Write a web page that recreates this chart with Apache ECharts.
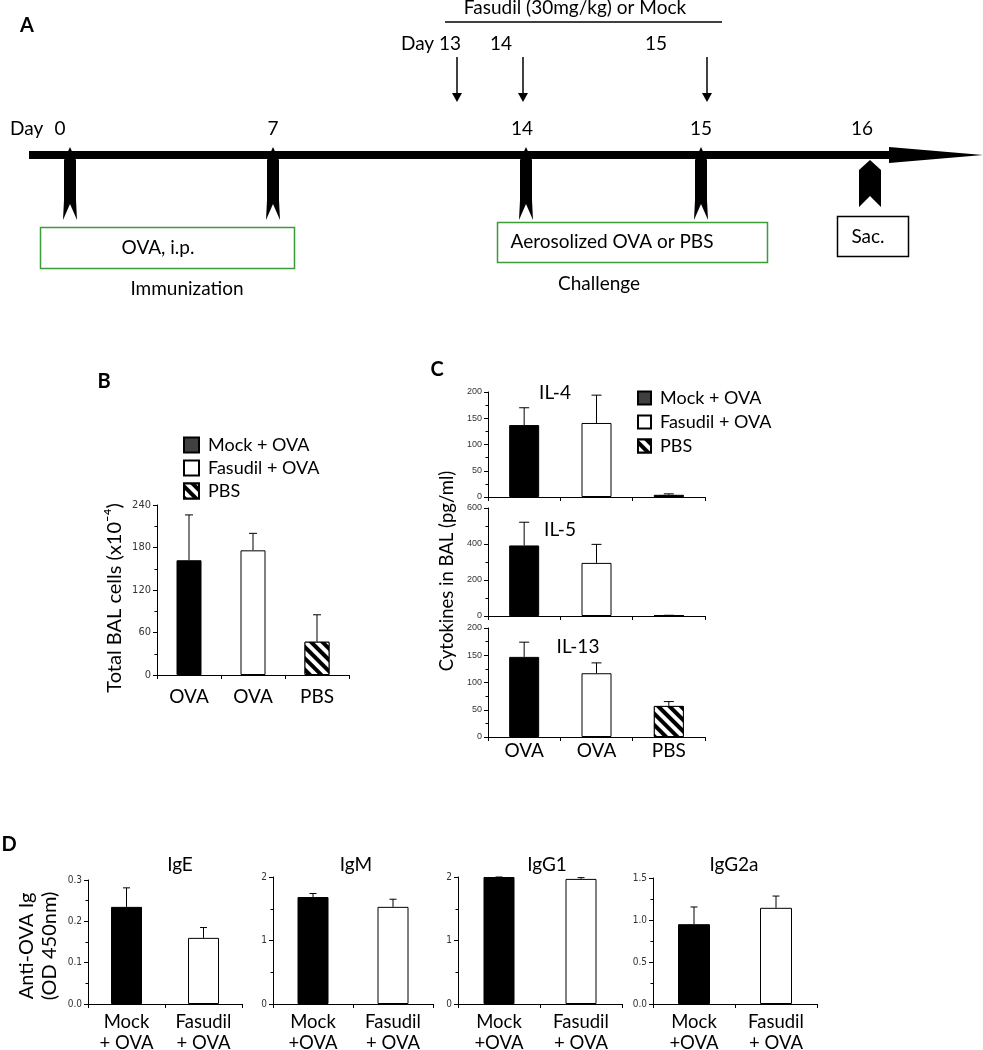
<!DOCTYPE html>
<html><head><meta charset="utf-8">
<script src="https://cdn.jsdelivr.net/npm/echarts@6.0.0/dist/echarts.min.js"></script>
<style>html,body{margin:0;padding:0;background:#fff}#c{width:983px;height:1050px}</style>
</head><body><div id="c"></div>
<script>
// ---------------- DATA ----------------
const timelineDays = ['0', '7', '14', '15', '16'];
const fasudilDays = ['Day 13', '14', '15'];
const seriesNames = ['Mock + OVA', 'Fasudil + OVA', 'PBS'];
const groupsBC = ['OVA', 'OVA', 'PBS'];
const balCells = [162, 176, 47];
const balCellsErr = [226, 200, 85];
const il4 = [137, 141, 4];
const il4Err = [170, 194, 6];
const il5 = [392, 295, 3];
const il5Err = [521, 398, 4];
const il13 = [147, 117, 57];
const il13Err = [174, 136, 65];
const igCatsE = ['Mock\n+ OVA', 'Fasudil\n+ OVA'];
const igCats = ['Mock\n+OVA', 'Fasudil\n+ OVA'];
const igE = [0.235, 0.160];
const igEErr = [0.281, 0.185];
const igM = [1.685, 1.53];
const igMErr = [1.74, 1.65];
const igG1 = [2.0, 1.97];
const igG1Err = [2.0, 1.99];
const igG2a = [0.95, 1.145];
const igG2aErr = [1.155, 1.285];

// ---------------- STYLE ----------------
const FONT = 'Lato, "Open Sans", sans-serif';
const NARROW = '"Liberation Sans Narrow", "DejaVu Sans Condensed", "Arial Narrow", sans-serif';
const ARIAL = '"Liberation Sans", Arial, sans-serif';
const GREEN = '#3a9d3a';
const hatch = { symbol: 'rect', symbolSize: 1, color: '#000', backgroundColor: '#fff',
  dashArrayX: [1, 0], dashArrayY: [4, 4], rotation: Math.PI / 4 };
const barStyles = [
  { color: '#000', borderColor: '#000', borderWidth: 1 },
  { color: '#fff', borderColor: '#000', borderWidth: 1 },
  { color: '#fff', borderColor: '#000', borderWidth: 1, decal: hatch }
];

const grids = [], xAxes = [], yAxes = [], series = [];

function errRender(cap) {
  return function (params, api) {
    const x = api.value(0), v = api.value(1), e = api.value(2);
    const p0 = api.coord([x, v]);
    const p1 = api.coord([x, e]);
    return { type: 'group', children: [
      { type: 'line', shape: { x1: p0[0], y1: p0[1], x2: p1[0], y2: p1[1] }, style: { stroke: '#000', lineWidth: 1 } },
      { type: 'line', shape: { x1: p1[0] - cap / 2, y1: p1[1], x2: p1[0] + cap / 2, y2: p1[1] }, style: { stroke: '#000', lineWidth: 1 } }
    ]};
  };
}

function addPanel(p) {
  const gi = grids.length;
  grids.push({ left: p.left, top: p.top, width: p.width, height: p.height, containLabel: false, outerBoundsMode: 'none' });
  xAxes.push({
    type: 'category', gridIndex: gi, data: p.cats,
    axisLine: { lineStyle: { color: '#000', width: 1 } },
    axisTick: { show: true, length: 4, lineStyle: { color: '#000' } },
    axisLabel: { show: !!p.showCats, fontFamily: FONT, fontSize: p.catSize || 18, color: '#000',
      margin: p.catMargin || 6, lineHeight: p.catLine || 20 },
    splitLine: { show: false }
  });
  yAxes.push({
    type: 'value', gridIndex: gi, min: 0, max: p.max, interval: p.interval,
    axisLine: { show: true, lineStyle: { color: '#000', width: 1 } },
    axisTick: { show: true, length: 4, lineStyle: { color: '#000' } },
    minorTick: { show: true, splitNumber: p.minorSplit || 2, length: 2.5, lineStyle: { color: '#000' } },
    splitLine: { show: false },
    axisLabel: { fontFamily: p.tickFont, fontSize: p.tickSize, color: '#333', margin: 6,
      formatter: p.fmt || null }
  });
  p.values.forEach((v, i) => {
    const data = p.values.map((vv, j) => (j === i ? vv : '-'));
    series.push({ type: 'bar', name: seriesNames[i], xAxisIndex: gi, yAxisIndex: gi, data,
      barWidth: p.barWidth, barGap: '-100%', itemStyle: barStyles[i], silent: true,
      emphasis: { disabled: true }, z: 2 });
  });
  series.push({ type: 'custom', xAxisIndex: gi, yAxisIndex: gi, silent: true, z: 3,
    data: p.values.map((v, i) => [i, v, p.errs[i]]), renderItem: errRender(p.cap), clip: false });
}

// Panel B
addPanel({ left: 157, top: 505, width: 192, height: 170, cats: groupsBC, showCats: true, catMargin: 12, catSize: 19,
  max: 240, interval: 60, values: balCells, errs: balCellsErr, barWidth: 25, cap: 8,
  tickFont: NARROW, tickSize: 11 });
// Panel C
addPanel({ left: 488, top: 392, width: 217, height: 105, cats: groupsBC, max: 200, interval: 50,
  values: il4, errs: il4Err, barWidth: 30, cap: 10, tickFont: ARIAL, tickSize: 9 });
addPanel({ left: 488, top: 508, width: 217, height: 108, cats: groupsBC, max: 600, interval: 200,
  values: il5, errs: il5Err, barWidth: 30, cap: 10, tickFont: ARIAL, tickSize: 9 });
addPanel({ left: 488, top: 628, width: 217, height: 109, cats: groupsBC, showCats: true, catMargin: 4, catSize: 19,
  max: 200, interval: 50, values: il13, errs: il13Err, barWidth: 30, cap: 10, tickFont: ARIAL, tickSize: 9 });
// Panel D
const fmt1 = v => v.toFixed(1);
const dCat = { showCats: true, catMargin: 8, catSize: 18.5, catLine: 21, barWidth: 31, cap: 7, tickFont: NARROW, tickSize: 10 };
addPanel(Object.assign({ left: 88, top: 880, width: 154, height: 124, cats: igCatsE,
  max: 0.3, interval: 0.1, values: igE, errs: igEErr, fmt: fmt1 }, dCat));
addPanel(Object.assign({ left: 273, top: 877, width: 160, height: 127, cats: igCats,
  max: 2, interval: 1, values: igM, errs: igMErr }, dCat));
addPanel(Object.assign({ left: 458, top: 877, width: 164, height: 127, cats: igCats,
  max: 2, interval: 1, values: igG1, errs: igG1Err }, dCat));
addPanel(Object.assign({ left: 653, top: 878, width: 164, height: 126, cats: igCats,
  max: 1.5, interval: 0.5, values: igG2a, errs: igG2aErr, fmt: fmt1 }, dCat, { barWidth: 32 }));

// ---------------- GRAPHICS (schematic + annotations) ----------------
const graphics = [];
function txt(x, y, text, o = {}) {
  graphics.push({ type: 'text', x, y, rotation: o.rot || 0, silent: true, style: {
    text, fill: '#000', fontFamily: FONT, fontSize: o.size || 19, fontWeight: o.weight || 'normal',
    lineHeight: o.lh || undefined,
    textAlign: o.align || 'center', textVerticalAlign: 'middle', align: o.align || 'center', verticalAlign: 'middle' } });
}
// panel letters
txt(27, 26, 'A', { weight: 'bold', size: 20 });
txt(104, 382, 'B', { weight: 'bold', size: 20 });
txt(437, 370, 'C', { weight: 'bold', size: 20 });
txt(9, 845, 'D', { weight: 'bold', size: 20 });
// axis titles
txt(115, 598, 'Total BAL cells (x10\u207B\u2074)', { rot: Math.PI / 2, size: 20 });
txt(447, 571, 'Cytokines in BAL (pg/ml)', { rot: Math.PI / 2, size: 18.5 });
txt(38, 946, 'Anti-OVA Ig\n(OD 450nm)', { rot: Math.PI / 2, size: 20, lh: 23 });

// timeline layout
const dayX = { '0': 70, '7': 273, '14': 526, '15': 701, '16': 870 };
const dayLabelX = { '0': 60, '7': 273, '14': 522, '15': 701, '16': 862 };
const fasX = { 'Day 13': 457, '14': 523, '15': 707 };
const fasLabelX = { 'Day 13': 431, '14': 501, '15': 656 };
graphics.push({ type: 'rect', shape: { x: 29, y: 151, width: 862, height: 8 }, style: { fill: '#000' }, silent: true });
graphics.push({ type: 'polygon', shape: { points: [[889, 147], [983, 155], [889, 163]] }, style: { fill: '#000' }, silent: true });
txt(10, 129, 'Day', { align: 'left' });
timelineDays.forEach(d => {
  txt(dayLabelX[d], 129, d);
  const c = dayX[d];
  if (d === '16') {
    graphics.push({ type: 'polygon', silent: true, style: { fill: '#000' }, shape: { points: [
      [c, 160], [c + 11, 170], [c + 11, 207], [c, 196], [c - 11, 207], [c - 11, 170]] } });
  } else {
    graphics.push({ type: 'polygon', silent: true, style: { fill: '#000' }, shape: { points: [
      [c, 147], [c + 6, 160], [c + 6, 200], [c + 7, 220], [c, 204], [c - 7, 220], [c - 6, 200], [c - 6, 160]] } });
  }
});
fasudilDays.forEach(d => {
  txt(fasLabelX[d], 44, d);
  const x = fasX[d];
  graphics.push({ type: 'line', silent: true, shape: { x1: x, y1: 57, x2: x, y2: 95 }, style: { stroke: '#000', lineWidth: 1.5 } });
  graphics.push({ type: 'polygon', silent: true, shape: { points: [[x - 5, 93], [x + 5, 93], [x, 102]] }, style: { fill: '#000' } });
});
graphics.push({ type: 'line', silent: true, shape: { x1: 445, y1: 22, x2: 722, y2: 22 }, style: { stroke: '#000', lineWidth: 1.5 } });
txt(575, 8, 'Fasudil (30mg/kg) or Mock');
graphics.push({ type: 'rect', silent: true, shape: { x: 40.5, y: 227.5, width: 254, height: 41 }, style: { fill: 'none', stroke: GREEN, lineWidth: 1.5 } });
graphics.push({ type: 'rect', silent: true, shape: { x: 497.5, y: 222.5, width: 270, height: 40 }, style: { fill: 'none', stroke: GREEN, lineWidth: 1.5 } });
graphics.push({ type: 'rect', silent: true, shape: { x: 837.5, y: 216.5, width: 71, height: 40 }, style: { fill: 'none', stroke: '#000', lineWidth: 1.5 } });
txt(158, 248, 'OVA, i.p.');
txt(187, 289, 'Immunization');
txt(612, 242, 'Aerosolized OVA or PBS');
txt(599, 284, 'Challenge');
txt(868, 237, 'Sac.');
// subplot titles
txt(555, 393, 'IL-4');
txt(560, 530, 'IL-5');
txt(578, 647, 'IL-13');
txt(180, 865, 'IgE');
txt(356, 865, 'IgM');
txt(547, 865, 'IgG1');
txt(734, 865, 'IgG2a');

const legendCommon = { orient: 'vertical', icon: 'rect', selectedMode: false, padding: 0,
  data: [{ name: seriesNames[0], itemStyle: { color: '#404040' } }, seriesNames[1], seriesNames[2]],
  textStyle: { fontFamily: FONT, fontSize: 18, color: '#000', padding: [0, 0, 0, 4] } };

const chart = echarts.init(document.getElementById('c'), null, { renderer: 'canvas' });
chart.setOption({
  animation: false,
  backgroundColor: '#fff',
  grid: grids, xAxis: xAxes, yAxis: yAxes, series,
  legend: [
    Object.assign({}, legendCommon, { left: 183, top: 436, itemWidth: 15, itemHeight: 15, itemGap: 5 }),
    Object.assign({}, legendCommon, { left: 637, top: 389, itemWidth: 13, itemHeight: 13, itemGap: 6 })
  ],
  graphic: { elements: graphics }
});
</script></body></html>
